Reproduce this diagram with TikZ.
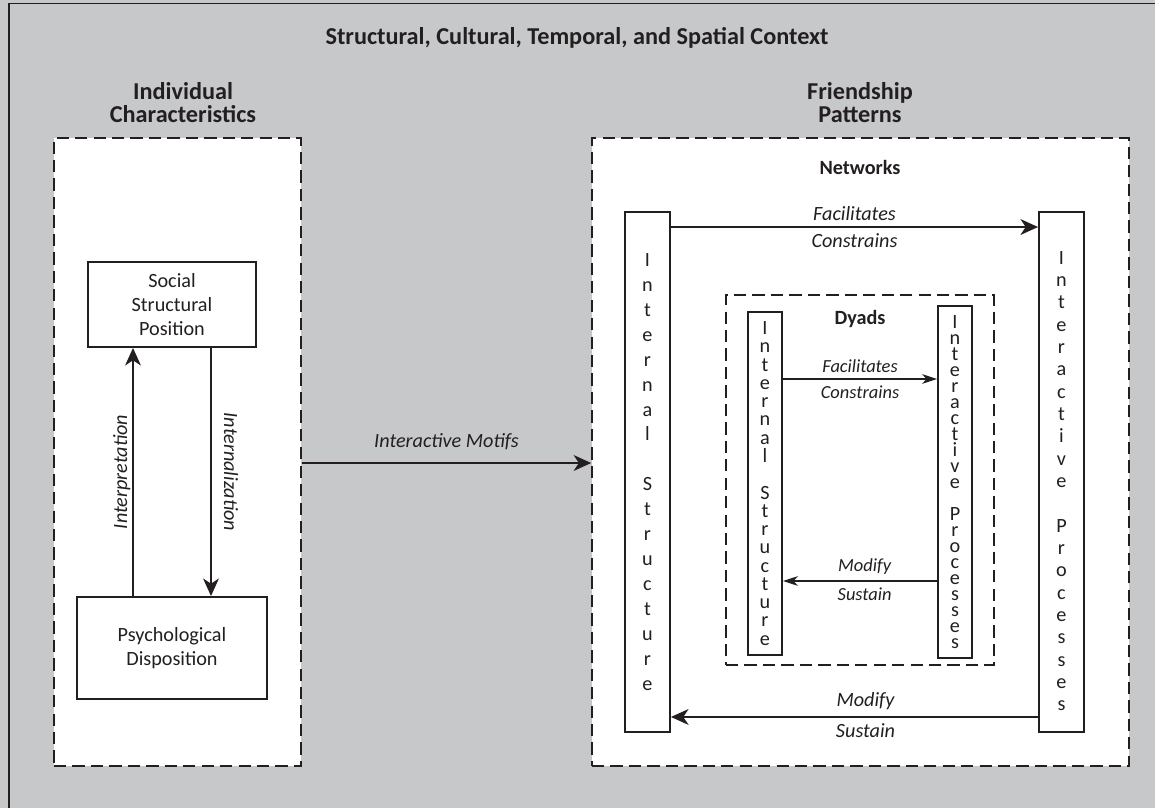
\documentclass[tikz,border=0pt]{standalone}
\usepackage{fontspec}
\setmainfont{Carlito}
\usetikzlibrary{arrows.meta}
\definecolor{ctxgray}{HTML}{C7C8CA}
\definecolor{ink}{HTML}{231F20}
\tikzset{
  zone/.style={draw=ink, fill=white, line width=0.9pt, dash pattern=on 7pt off 3.5pt},
  box/.style={draw=ink, fill=white, line width=1.1pt, align=center, text=ink, inner sep=0pt, font=\fontsize{11.5}{13.9}\selectfont},
  bar/.style={draw=ink, fill=white, line width=1.1pt, align=center, text=ink, inner sep=0pt, font=\fontsize{11.5}{#1}\selectfont},
  head/.style={text=ink, align=center, font=\bfseries\fontsize{13.8}{13.1}\selectfont},
  sub/.style={text=ink, font=\bfseries\fontsize{11.5}{13}\selectfont},
  lab/.style={text=ink, font=\itshape\fontsize{11.5}{13}\selectfont},
  smalllab/.style={text=ink, font=\itshape\fontsize{10.5}{12}\selectfont},
  arr/.style={draw=ink, line width=1.1pt, -{Stealth[length=10pt,width=9pt,inset=3pt]}},
  thinarr/.style={draw=ink, line width=0.7pt, -{Stealth[length=8.5pt,width=5.5pt,inset=2.5pt]}}
}
\begin{document}
\begin{tikzpicture}
\useasboundingbox (0,0) rectangle (23.1,16.16);
\fill[ctxgray] (0,0) rectangle (23.1,16.16);
\draw[ink, line width=1pt] (0.18,0) -- (0.18,16.09) -- (23.1,16.09);
\node[head, anchor=base] (context) at (11.54,15.27) {Structural, Cultural, Temporal, and Spatial Context};

% individual
\node[head, anchor=base] (indhead) at (3.66,13.70) {Individual\\Characteristics};
\node[zone, minimum width=4.94cm, minimum height=12.56cm] (indiv) at (3.55,7.12) {};
\node[box, minimum width=3.36cm, minimum height=1.7cm] (social) at (3.44,10.07) {Social\\Structural\\Position};
\node[box, minimum width=3.8cm, minimum height=2.04cm] (psych) at (3.44,3.20) {Psychological\\Disposition};
\draw[arr] ([xshift=-0.78cm]psych.north) -- ([xshift=-0.78cm]social.south)
  node[lab, midway, rotate=90, above, inner sep=1pt] {Interpretation};
\draw[arr] ([xshift=0.78cm]social.south) -- ([xshift=0.78cm]psych.north)
  node[lab, midway, rotate=-90, above, inner sep=6.8pt] {Internalization};

% friendship patterns
\node[head, anchor=base] (friendhead) at (17.2,13.70) {Friendship\\Patterns};
\node[zone, minimum width=10.74cm, minimum height=12.56cm] (friend) at (17.21,7.12) {};
\draw[arr] ([yshift=-0.22cm]indiv.east) -- ([yshift=-0.22cm]friend.west)
  node[lab, midway, above, inner sep=7pt] {Interactive Motifs};

% networks
\node[sub, anchor=base] (netlabel) at (17.2,12.66) {Networks};
\node[bar=14.2pt, minimum width=0.9cm, minimum height=10.4cm] (netstruct) at (12.95,6.72)
  {I\\n\\t\\e\\r\\n\\a\\l\\\mbox{}\\S\\t\\r\\u\\c\\t\\u\\r\\e};
\node[bar=12.7pt, minimum width=0.9cm, minimum height=10.4cm] (netproc) at (21.23,6.72)
  {\mbox{}\\[5pt]I\\n\\t\\e\\r\\a\\c\\t\\i\\v\\e\\\mbox{}\\P\\r\\o\\c\\e\\s\\s\\e\\s};
\draw[arr] ([yshift=-0.32cm]netstruct.north east) -- ([yshift=-0.32cm]netproc.north west)
  node[lab, midway, above] {Facilitates} node[lab, midway, below] {Constrains};
\draw[arr] ([yshift=0.32cm]netproc.south west) -- ([yshift=0.32cm]netstruct.south east)
  node[lab, pos=.47, above] {Modify} node[lab, pos=.47, below] {Sustain};

% dyads
\node[zone, minimum width=5.36cm, minimum height=7.4cm] (dyad) at (17.2,6.56) {};
\node[sub, anchor=base] (dyadlabel) at (17.2,9.66) {Dyads};
\node[bar=10.4pt, minimum width=0.68cm, minimum height=6.86cm] (dyadstruct) at (15.30,6.49)
  {I\\n\\t\\e\\r\\n\\a\\l\\\mbox{}\\S\\t\\r\\u\\c\\t\\u\\r\\e};
\node[bar=9.1pt, minimum width=0.68cm, minimum height=7.04cm] (dyadproc) at (19.10,6.52)
  {I\\n\\t\\e\\r\\a\\c\\t\\i\\v\\e\\\mbox{}\\P\\r\\o\\c\\e\\s\\s\\e\\s};
\draw[thinarr] ([yshift=2.09cm]dyadstruct.east) -- ([yshift=2.09cm]dyadproc.west |- dyadstruct.east)
  node[smalllab, midway, above] {Facilitates} node[smalllab, midway, below] {Constrains};
\draw[thinarr] ([yshift=-1.95cm]dyadproc.west |- dyadstruct.east) -- ([yshift=-1.95cm]dyadstruct.east)
  node[smalllab, pos=.47, above] {Modify} node[smalllab, pos=.47, below] {Sustain};
\end{tikzpicture}
\end{document}
